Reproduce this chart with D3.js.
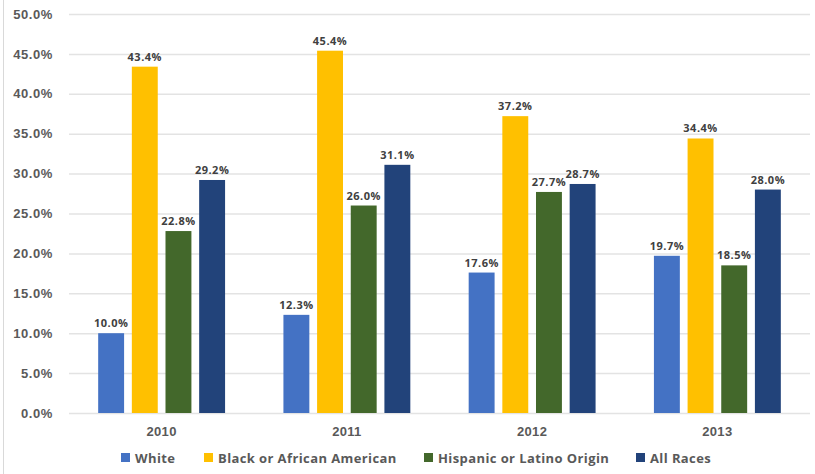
<!DOCTYPE html>
<html><head><meta charset="utf-8">
<script src="https://cdn.jsdelivr.net/npm/d3@7"></script>
<style>body{margin:0;background:#fff}svg{display:block;font-family:"Open Sans",sans-serif}</style>
</head><body><svg id="c" width="815" height="474"></svg>
<script>
const years = ["2010","2011","2012","2013"];
const seriesNames = ["White","Black or African American","Hispanic or Latino Origin","All Races"];
const white = [10.0,12.3,17.6,19.7];
const black = [43.4,45.4,37.2,34.4];
const hispanic = [22.8,26.0,27.7,18.5];
const allRaces = [29.2,31.1,28.7,28.0];
const yTicks = [0,5,10,15,20,25,30,35,40,45,50];
const colors = ["#4472C4","#FFC000","#43682B","#22437A"];

const seriesVals = [white,black,hispanic,allRaces];
const svg = d3.select("#c");
const L=69,R=810,T=14,B=413;
const y = d3.scaleLinear().domain([0,50]).range([B,T]);
const x0 = d3.scaleBand().domain(years).range([L,R]).paddingInner(0.315).paddingOuter(0.1575);
const x1 = d3.scaleBand().domain(d3.range(4)).range([0,x0.bandwidth()]).paddingInner(0.23);

svg.append("line").attr("x1",3.5).attr("x2",3.5).attr("y1",0).attr("y2",474).attr("stroke","#d9d9d9");

const yAxis = d3.axisLeft(y).tickValues(yTicks).tickSize(-(R-L)).tickFormat(d=>d.toFixed(1)+"%").tickPadding(16);
const ga = svg.append("g").attr("transform",`translate(${L},0)`).call(yAxis);
ga.select(".domain").remove();
ga.selectAll(".tick line").attr("stroke","#e3e3e3").attr("stroke-width",1.5);
ga.selectAll(".tick text").attr("fill","#595959").attr("font-size",13).attr("font-weight",700).attr("x",-16).attr("letter-spacing","0.6px");

const g = svg.append("g");
years.forEach((yr,i)=>{
  seriesVals.forEach((s,j)=>{
    const v=s[i];
    g.append("rect").attr("x",x0(yr)+x1(j)).attr("width",x1.bandwidth())
      .attr("y",y(v)).attr("height",B-y(v)).attr("fill",colors[j]);
    g.append("text").attr("x",x0(yr)+x1(j)+x1.bandwidth()/2).attr("y",y(v)-6)
      .attr("text-anchor","middle").attr("font-size",11).attr("font-weight",700).attr("fill","#404040")
      .attr("letter-spacing","0.5px").text(v.toFixed(1)+"%");
  });
});

const xAxis = d3.axisBottom(x0).tickSize(0).tickPadding(14);
const gx = svg.append("g").attr("transform",`translate(0,${B})`).call(xAxis);
gx.select(".domain").remove();
gx.selectAll("text").attr("fill","#595959").attr("font-size",13).attr("font-weight",700).attr("letter-spacing","0.3px");

const legX=[121,204,424,636];
const lg = svg.append("g");
seriesNames.forEach((n,j)=>{
  lg.append("rect").attr("x",legX[j]).attr("y",453).attr("width",9).attr("height",9).attr("fill",colors[j]);
  lg.append("text").attr("x",legX[j]+14).attr("y",462.5).attr("font-size",13).attr("font-weight",700).attr("fill","#595959").attr("letter-spacing","0.4px").text(n);
});
</script></body></html>
